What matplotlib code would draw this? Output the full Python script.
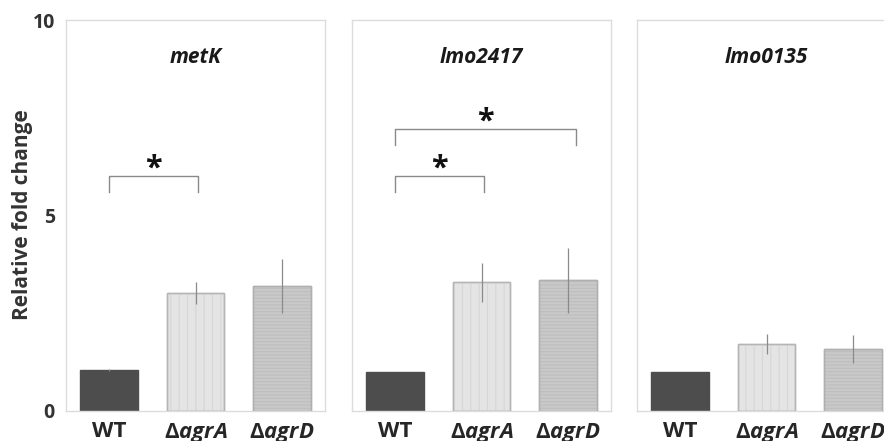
import matplotlib
matplotlib.use("Agg")
import matplotlib.pyplot as plt
import numpy as np

plt.rcParams['font.family'] = ['Open Sans', 'DejaVu Sans']
plt.rcParams['mathtext.fontset'] = 'custom'
plt.rcParams['mathtext.rm'] = 'Open Sans'
plt.rcParams['mathtext.bf'] = 'Open Sans:bold'
plt.rcParams['mathtext.bfit'] = 'Open Sans:italic:bold'
plt.rcParams['mathtext.it'] = 'Open Sans:italic'
plt.rcParams['hatch.linewidth'] = 0.8

genes = ['metK', 'lmo2417', 'lmo0135']
strains = ['WT', 'ΔagrA', 'ΔagrD']
strain_labels = ['WT', r'$\mathbf{\Delta}\mathbfit{agrA}$', r'$\mathbf{\Delta}\mathbfit{agrD}$']
means = {
    'metK':    [1.05, 3.01, 3.20],
    'lmo2417': [1.00, 3.29, 3.34],
    'lmo0135': [1.00, 1.71, 1.59],
}
errs = {
    'metK':    [0.02, 0.28, 0.70],
    'lmo2417': [0.01, 0.49, 0.83],
    'lmo0135': [0.01, 0.26, 0.35],
}
# significance brackets: (gene, i, j, y_top)
brackets = [
    ('metK', 0, 1, 6.0),
    ('lmo2417', 0, 1, 6.0),
    ('lmo2417', 0, 2, 7.2),
]
yticks = [0, 5, 10]

face = ['#4d4d4d', '#e4e4e4', '#c9c9c9']
edge = ['#4d4d4d', '#b5b5b5', '#b0b0b0']
hatches = [None, '||', '-----']
hatch_col = [None, '#d6d6d6', '#bdbdbd']

fig = plt.figure(figsize=(8.84, 4.41), dpi=100)
W, H = 884, 441
lefts = [66, 352, 637]
pw, top, bot = 259, 20, 411

for k, g in enumerate(genes):
    ax = fig.add_axes([lefts[k] / W, (H - bot) / H, pw / W, (bot - top) / H])
    x = np.arange(len(strains))
    for i in range(len(strains)):
        ax.bar(x[i], means[g][i], width=0.67, color=face[i], edgecolor=edge[i], linewidth=1, zorder=2)
        if hatches[i]:
            ax.bar(x[i], means[g][i], width=0.67, color='none', edgecolor=hatch_col[i],
                   hatch=hatches[i], linewidth=0, zorder=2.5)
            ax.bar(x[i], means[g][i], width=0.67, color='none', edgecolor=edge[i],
                   linewidth=1, zorder=2.6)
    ax.errorbar(x, means[g], yerr=errs[g], fmt='none', ecolor='#8a8a8a', elinewidth=0.9,
                capsize=0, zorder=3)
    ax.set_xlim(-0.5, 2.5)
    ax.set_ylim(0, 10)
    for s in ax.spines.values():
        s.set_color('#dcdcdc')
        s.set_linewidth(1)
    ax.tick_params(length=0)
    ax.set_xticks(x)
    ax.set_xticklabels(strain_labels, fontsize=16, fontweight='bold', color='#262626')
    ax.tick_params(axis='x', pad=7)
    if k == 0:
        ax.set_yticks(yticks)
        ax.set_yticklabels([str(t) for t in yticks], fontsize=14, fontweight='bold', color='#333333')
        ax.tick_params(axis='y', pad=8)
    else:
        ax.set_yticks([])
    ax.text(1, 9.05, g, ha='center', va='center', fontsize=15, fontweight='bold',
            fontstyle='italic', color='#1a1a1a')
    for (bg, i, j, yb) in brackets:
        if bg != g:
            continue
        xj = x[j] + (0.1 if j == 2 else 0.03)
        ax.plot([x[i], x[i], xj, xj], [yb - 0.4, yb, yb, yb - 0.4], color='#8a8a8a', lw=1, zorder=3)
        ax.text((x[i] + xj) / 2, yb - 0.18, '*', ha='center', va='bottom', fontsize=22,
                fontweight='bold', color='#111111')

fig.text(23 / W, (H - 215) / H, 'Relative fold change', rotation=90, ha='center', va='center',
         fontsize=15, fontweight='bold', color='#333333')

fig.savefig('out.png', dpi=100)
